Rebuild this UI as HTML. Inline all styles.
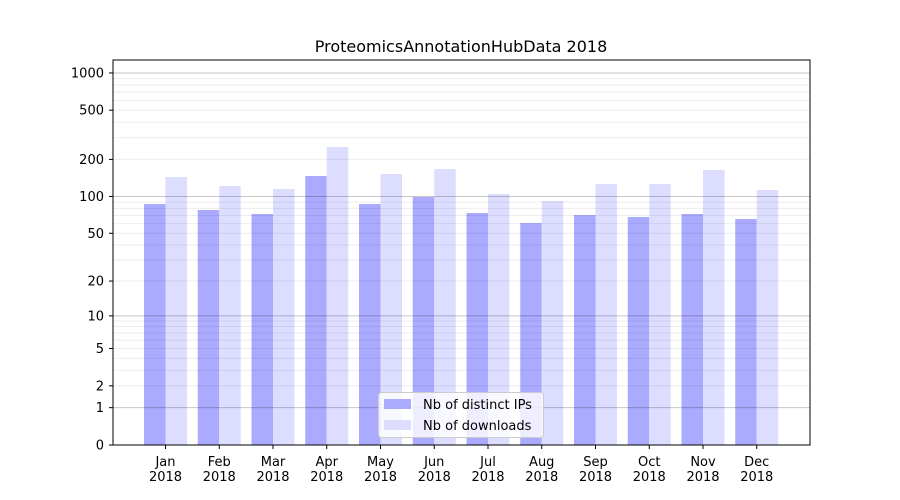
<!DOCTYPE html>
<html><head><meta charset="utf-8"><style>body{margin:0;background:#fff}svg{display:block}text{font-family:"DejaVu Sans","Liberation Sans",sans-serif;fill:#000}</style></head>
<body>
<svg id="s" width="900" height="500" xmlns="http://www.w3.org/2000/svg">
<rect width="900" height="500" fill="#fff"/>
<g id="bars"></g>
<g id="grid"></g>
<rect x="113" y="60" width="697" height="385" fill="none" stroke="#000" stroke-width="1"/>
<g id="ticks" font-size="13"></g>
<text x="461" y="52" font-size="16" text-anchor="middle">ProteomicsAnnotationHubData 2018</text>
<rect x="378.5" y="392.5" width="165" height="45" rx="3" fill="#fff" fill-opacity="0.8" stroke="#ccc"/>
<rect x="384" y="399" width="27" height="10" fill="#aaaaff"/>
<rect x="384" y="420" width="27" height="10" fill="#ddddff"/>
<text x="423" y="409" font-size="13">Nb of distinct IPs</text>
<text x="423" y="430" font-size="13">Nb of downloads</text>
</svg>
<script>
var ns="http://www.w3.org/2000/svg";
function el(p,t,a,txt){var e=document.createElementNS(ns,t);for(var k in a)e.setAttribute(k,a[k]);if(txt!==undefined)e.textContent=txt;document.getElementById(p).appendChild(e);return e;}
function Y(v){return 445-124*Math.log10(1+v);}
for(var d=1;d<=1000;d*=10){for(var m=1;m<10;m++){var v=d*m;if(v>1259)break;var y=Y(v);
 if(m==1)el("grid","line",{x1:113,x2:810,y1:y,y2:y,stroke:"#000","stroke-opacity":0.22,"stroke-width":1});
 else el("grid","line",{x1:113,x2:810,y1:y,y2:y,stroke:"#000","stroke-opacity":0.07,"stroke-width":1});}}
var dark=[204,210,214,176,204,197,213,223,215,217,214,219];
var light=[177,186,189,147,174,169,194,201,184,184,170,190];
var mon=["Jan","Feb","Mar","Apr","May","Jun","Jul","Aug","Sep","Oct","Nov","Dec"];
for(var i=0;i<12;i++){var x=144+53.75*i;
 el("bars","rect",{x:x,y:dark[i],width:21.5,height:445-dark[i],fill:"#aaaaff"});
 el("bars","rect",{x:x+21.5,y:light[i],width:21.5,height:445-light[i],fill:"#ddddff"});
 var cx=x+21.5;
 el("ticks","line",{x1:cx,x2:cx,y1:445,y2:449,stroke:"#000"});
 el("ticks","text",{x:cx,y:466,"text-anchor":"middle"},mon[i]);
 el("ticks","text",{x:cx,y:481,"text-anchor":"middle"},"2018");}
[0,1,2,5,10,20,50,100,200,500,1000].forEach(function(v){var y=Y(v);
 el("ticks","line",{x1:109,x2:113,y1:y,y2:y,stroke:"#000"});
 el("ticks","text",{x:104,y:y+4.5,"text-anchor":"end"},String(v));});
</script>
</body></html>
